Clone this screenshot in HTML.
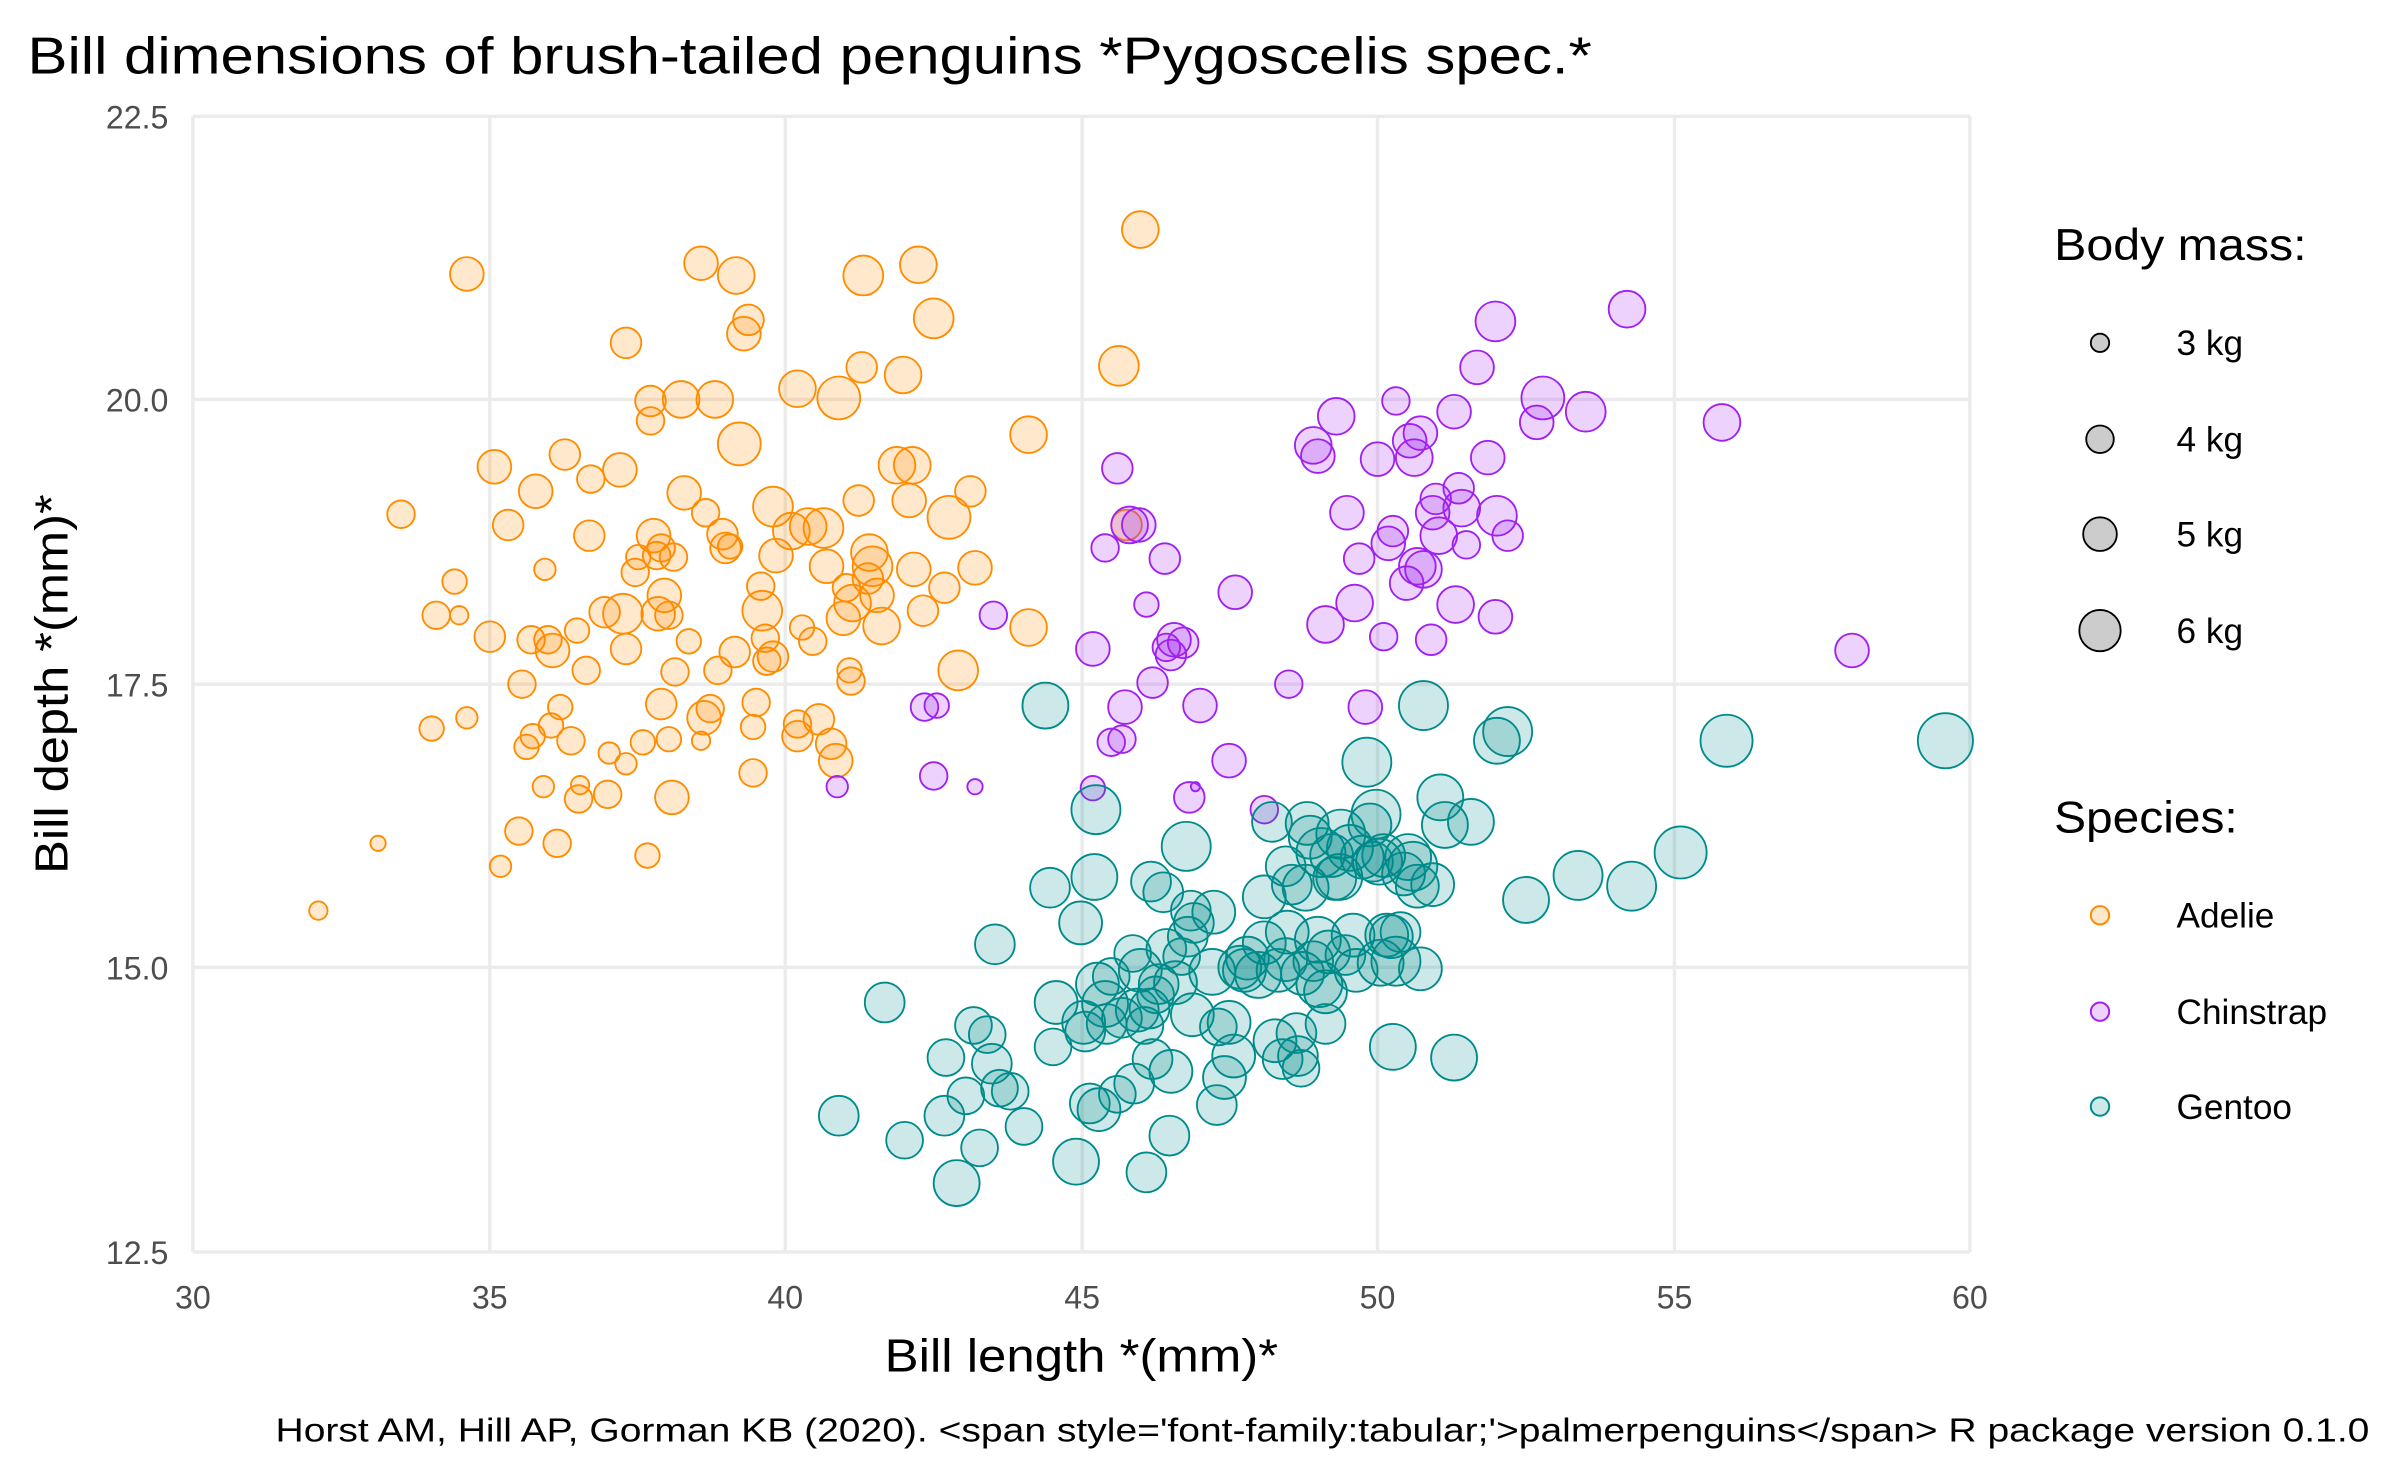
<!DOCTYPE html>
<html><head><meta charset="utf-8"><style>
html,body{margin:0;padding:0;background:#fff;}
svg{display:block;}
text{font-family:"Liberation Sans Narrow","Liberation Sans",sans-serif;}
</style></head><body>
<svg id="s" width="2400" height="1480" viewBox="0 0 1568 967" preserveAspectRatio="none" xmlns="http://www.w3.org/2000/svg">
<rect width="1568" height="967" fill="#fff"/>
<g stroke="#ebebeb" stroke-width="2.2">
<line x1="126" y1="76" x2="126" y2="818"/><line x1="320" y1="76" x2="320" y2="818"/><line x1="513" y1="76" x2="513" y2="818"/><line x1="707" y1="76" x2="707" y2="818"/><line x1="900" y1="76" x2="900" y2="818"/><line x1="1094" y1="76" x2="1094" y2="818"/><line x1="1287" y1="76" x2="1287" y2="818"/>
<line x1="126" y1="76" x2="1287" y2="76"/><line x1="126" y1="261" x2="1287" y2="261"/><line x1="126" y1="447" x2="1287" y2="447"/><line x1="126" y1="632" x2="1287" y2="632"/><line x1="126" y1="818" x2="1287" y2="818"/>
</g>
<g id="pts"></g>
<g fill="#4d4d4d" font-size="21" text-anchor="end">
<text x="110" y="84">22.5</text><text x="110" y="269">20.0</text><text x="110" y="455">17.5</text><text x="110" y="640">15.0</text><text x="110" y="826">12.5</text>
</g>
<g fill="#4d4d4d" font-size="21" text-anchor="middle">
<text x="126" y="855">30</text><text x="320" y="855">35</text><text x="513" y="855">40</text><text x="707" y="855">45</text><text x="900" y="855">50</text><text x="1094" y="855">55</text><text x="1287" y="855">60</text>
</g>
<text x="578" y="896" font-size="30" textLength="257" lengthAdjust="spacingAndGlyphs" fill="#000">Bill length *(mm)*</text>
<text transform="translate(44,447) rotate(-90)" font-size="30" x="-124" textLength="248" lengthAdjust="spacingAndGlyphs" fill="#000">Bill depth *(mm)*</text>
<text x="18" y="48" font-size="34" textLength="1022" lengthAdjust="spacingAndGlyphs" fill="#000">Bill dimensions of brush-tailed penguins *Pygoscelis spec.*</text>
<text x="180" y="942" font-size="22" textLength="1368" lengthAdjust="spacingAndGlyphs" fill="#000">Horst AM, Hill AP, Gorman KB (2020). &lt;span style='font-family:tabular;'&gt;palmerpenguins&lt;/span&gt; R package version 0.1.0</text>
<text x="1342" y="170" font-size="29" textLength="165" lengthAdjust="spacingAndGlyphs" fill="#000">Body mass:</text>
<g fill="#cccccc" stroke="#000" stroke-width="1.2">
<circle cx="1372" cy="224" r="6"/><circle cx="1372" cy="287" r="9"/><circle cx="1372" cy="349" r="11"/><circle cx="1372" cy="412" r="13.5"/>
</g>
<g font-size="23" fill="#000"><text x="1422" y="232">3 kg</text><text x="1422" y="295">4 kg</text><text x="1422" y="357">5 kg</text><text x="1422" y="420">6 kg</text></g>
<text x="1342" y="544" font-size="29" textLength="120" lengthAdjust="spacingAndGlyphs" fill="#000">Species:</text>
<circle cx="1372" cy="598" r="6" fill="rgba(255,140,0,0.2)" stroke="#FF8C00" stroke-width="1.3"/>
<circle cx="1372" cy="661" r="6" fill="rgba(160,32,240,0.2)" stroke="#A020F0" stroke-width="1.3"/>
<circle cx="1372" cy="723" r="6" fill="rgba(0,139,139,0.2)" stroke="#008B8B" stroke-width="1.3"/>
<g font-size="23" fill="#000"><text x="1422" y="606">Adelie</text><text x="1422" y="669">Chinstrap</text><text x="1422" y="731">Gentoo</text></g>
</svg>
<script>
var A=[208,595,6,247,551,5,262,336,9,282,476,8,285,402,9,297,380,8,300,402,6,305,179,11,305,469,7,320,416,10,323,305,11,327,566,7,332,343,10,339,543,9,341,447,9,344,488,8,347,418,9,348,481,8,350,321,11,355,514,7,356,372,7,358,418,9,360,474,8,361,425,11,364,551,9,366,462,8,369,297,10,373,484,9,377,412,8,378,522,9,379,513,6,383,438,9,385,350,10,386,313,9,395,400,10,397,519,9,398,492,7,405,307,11,407,401,13,409,424,10,409,224,10,409,499,7,415,374,9,417,364,8,420,485,8,423,559,8,425,275,9,425,262,10,427,350,11,429,363,9,430,401,11,432,460,10,432,358,9,434,389,11,437,483,8,437,402,9,440,364,9,439,521,11,441,439,9,445,261,12,447,322,11,450,419,8,458,484,6,458,172,11,460,469,11,461,335,9,464,463,9,467,261,12,469,438,9,472,349,10,474,358,10,477,357,8,480,426,10,481,180,12,483,290,14,486,218,11,489,209,10,492,505,9,492,475,8,494,459,9,497,383,9,498,399,13,500,417,9,501,432,9,505,429,10,505,331,13,507,363,11,517,347,12,521,254,12,521,473,9,521,481,10,524,410,8,528,344,12,531,419,9,535,470,10,538,345,13,540,370,11,543,486,10,546,497,11,548,260,14,551,404,11,553,384,9,555,438,8,556,445,9,557,394,12,561,327,10,563,240,10,564,180,13,567,378,10,568,361,12,570,370,13,573,389,11,576,409,12,586,304,12,590,245,12,594,327,11,596,304,12,597,372,11,600,173,12,603,399,10,610,208,13,617,384,10,620,338,14,626,438,13,634,321,10,637,371,11,672,284,12,672,410,12,731,239,13,736,343,10,745,150,12];
var C=[547,514,7,604,462,9,610,507,9,612,461,8,637,514,5,649,402,9,714,424,11,714,515,8,722,358,9,726,485,9,730,306,10,733,483,9,735,462,11,738,343,12,744,343,11,749,395,8,753,446,10,761,365,10,762,423,9,765,428,10,767,418,11,773,420,10,777,521,10,781,514,3,784,461,11,803,497,11,807,387,11,826,529,9,842,447,9,858,291,12,861,298,11,866,408,12,873,272,12,880,335,11,885,394,12,888,365,10,892,462,11,900,300,11,904,416,9,907,355,11,910,347,10,912,262,9,919,381,11,921,288,11,924,299,12,926,370,12,928,283,11,930,372,12,935,418,10,936,335,11,938,326,10,940,350,12,950,269,11,951,395,12,953,319,10,955,332,12,958,356,9,965,240,11,972,299,11,977,210,13,977,403,11,978,337,13,985,350,10,1004,276,11,1008,260,14,1036,269,13,1063,202,12,1125,276,12,1210,425,11];
var G=[548,729,13,578,655,13,591,745,12,617,729,13,618,691,12,625,773,15,631,716,12,636,670,12,640,750,12,645,676,12,648,695,13,650,617,13,653,711,12,660,713,12,669,736,12,683,461,15,686,580,13,688,684,12,690,655,14,703,759,15,706,603,14,708,668,14,709,674,13,712,721,13,715,573,15,716,529,16,717,643,14,718,725,14,722,656,15,723,669,13,726,638,12,730,715,12,733,665,13,740,623,12,741,708,13,743,660,14,745,634,14,748,670,12,749,766,13,751,659,13,752,576,13,753,692,13,755,650,12,757,643,13,760,583,13,762,620,13,764,742,13,765,700,14,768,642,14,772,625,12,775,553,16,776,612,13,778,595,13,779,663,14,780,603,13,792,635,15,793,596,14,795,722,13,796,671,12,800,704,14,803,668,14,806,690,14,810,632,14,813,634,14,815,626,14,822,637,15,826,616,14,826,586,14,831,537,13,833,680,14,835,634,14,838,692,13,840,566,13,840,627,14,841,609,14,844,578,13,847,675,13,848,690,13,850,698,12,851,636,14,853,580,15,854,538,14,856,547,14,858,628,13,861,614,15,862,643,15,863,557,16,866,648,14,866,669,13,868,622,14,870,559,14,872,574,14,875,573,15,876,545,16,879,624,13,882,554,15,884,611,14,886,634,14,890,560,14,893,498,16,895,539,14,897,563,13,899,532,16,901,563,15,902,629,15,904,559,14,906,611,14,909,612,14,910,684,15,912,628,16,915,609,13,917,571,14,920,560,15,923,566,16,926,579,14,928,633,14,930,461,16,936,578,14,941,521,15,944,539,15,950,691,15,961,537,15,978,484,15,985,478,16,997,588,15,1031,572,16,1066,579,16,1098,557,17,1128,484,17,1271,484,18];
var g=document.getElementById('pts'),h='';
function add(a,f,s){for(var i=0;i<a.length;i+=3)h+='<circle cx="'+a[i]+'" cy="'+a[i+1]+'" r="'+a[i+2]+'" fill="'+f+'" stroke="'+s+'" stroke-width="1.2"/>';}
add(A,'rgba(255,140,0,0.2)','#FF8C00');add(C,'rgba(160,32,240,0.2)','#A020F0');add(G,'rgba(0,139,139,0.2)','#008B8B');
g.innerHTML=h;
</script>
</body></html>
